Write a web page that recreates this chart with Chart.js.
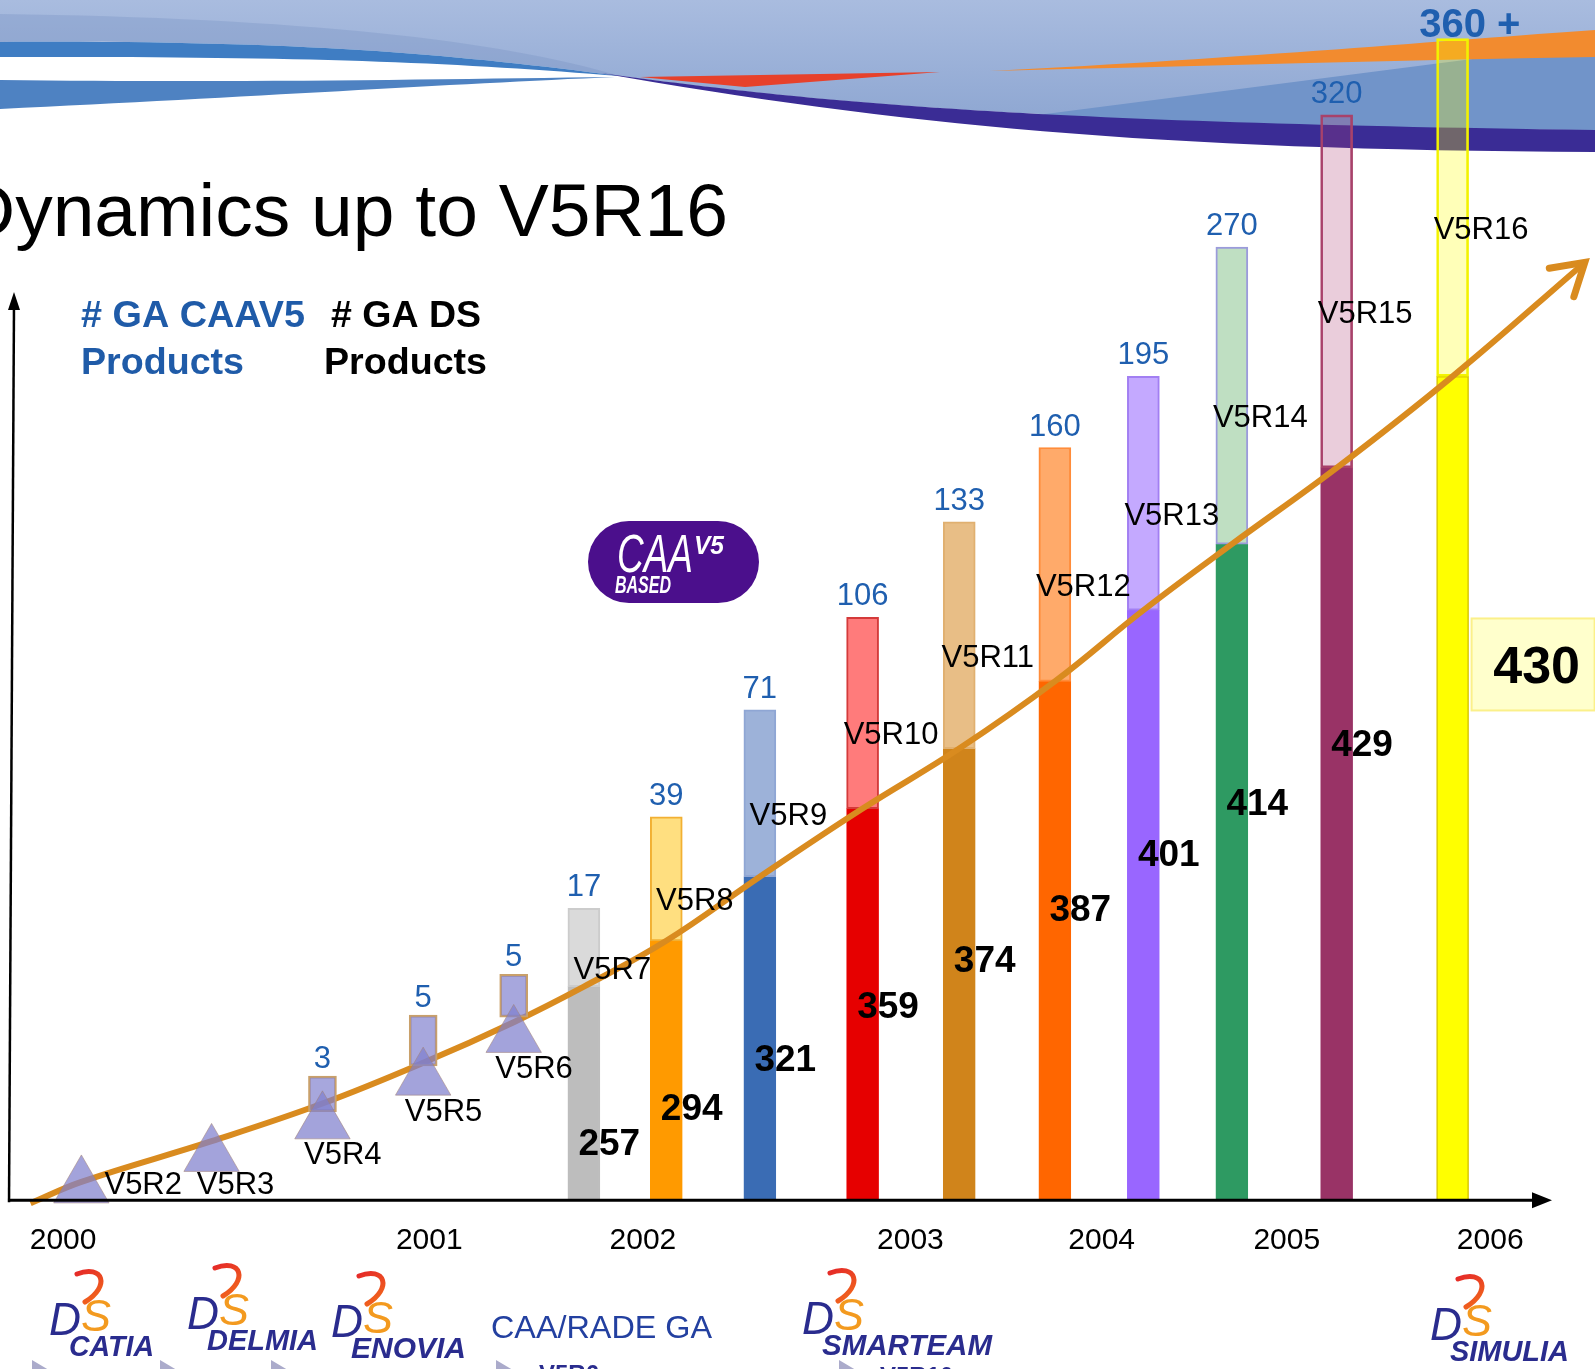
<!DOCTYPE html>
<html>
<head>
<meta charset="utf-8">
<script src="https://cdn.jsdelivr.net/npm/chart.js@4.4.1/dist/chart.umd.min.js"></script>
<style>
  html, body { margin: 0; padding: 0; background: #fff; overflow: hidden; }
  #wrap { width: 1595px; height: 1369px; position: relative; }
</style>
</head>
<body>
<div id="wrap"><canvas id="chart"></canvas></div>
<script>
const FONT = '"Liberation Sans", Arial, sans-serif';

// Releases on the (uneven, schematic) time line of the slide
const releases = ['V5R2', 'V5R3', 'V5R4', 'V5R5', 'V5R6', 'V5R7', 'V5R8', 'V5R9',
  'V5R10', 'V5R11', 'V5R12', 'V5R13', 'V5R14', 'V5R15', 'V5R16'];
const releaseAt = [80, 208, 317, 416, 505, 574, 655, 747, 848, 943, 1037, 1124, 1211, 1314, 1428];
// height of the orange trend curve (= top of the dark DS part) at each release
const dsLevel = [18, 58, 95, 135, 175, 210, 255, 318, 385, 444, 510, 580, 645, 720, 810];
const trendFrom = [30, -3];
const trendTo = [1558, 922];

// triangles V5R2..V5R6
const markerLevel = [13, 44, 76, 119, 161];
// small CAA boxes V5R4..V5R6
const boxLow = [87, 132, 180];
const boxHigh = [122, 182, 222];
// full bar height V5R7..V5R16
const barTop = [287, 377, 482, 573, 667, 740, 810, 937, 1067, 1142];

// label texts
const caaCounts = ['3', '5', '5', '17', '39', '71', '106', '133', '160', '195', '270', '320', '360 +']; // V5R4..V5R16
const dsCounts = ['257', '294', '321', '359', '374', '387', '401', '414', '429', '430'];             // V5R7..V5R16
const yearLabels = ['2000', '2001', '2002', '2003', '2004', '2005', '2006'];
const yearAt = [62, 422, 632, 895, 1083, 1265, 1465];

// bar palette V5R7..V5R16
const DARK = ['#BDBDBD', '#FF9A00', '#3A6CB4', '#E60000', '#D0841B', '#FF6600', '#9966FF', '#2E9A62', '#993366', '#FFFF00'];
const DARK_EDGE = ['#BDBDBD', '#FF9A00', '#3A6CB4', '#E60000', '#D0841B', '#FF6600', '#9966FF', '#2E9A62', '#993366', '#D6C400'];
const LIGHT = ['#DADADA', '#FFDF80', '#9DB2D9', '#FF7B7B', '#E8BE86', '#FFAA6A', '#C4A9FF', '#BFDFC2',
  'rgba(175, 60, 115, 0.26)', 'rgba(255, 255, 0, 0.28)'];
const LIGHT_EDGE = ['#CCCCCC', '#F2B033', '#8FA6D4', '#D43A3A', '#E0B070', '#FF8C3A', '#A27FF2', '#9B9BDB', '#A8426A', '#F2F200'];

const BLUE_TXT = '#1F5FAF';
const first = 5; // index of V5R7

const dsData = barTop.map((t, i) => ({ x: releaseAt[first + i], y: [0, dsLevel[first + i]] }));
const caaData = barTop.map((t, i) => ({ x: releaseAt[first + i], y: [dsLevel[first + i], t] }));
const boxData = boxLow.map((lo, i) => ({ x: releaseAt[2 + i], y: [lo, boxHigh[i]] }));
const markerData = markerLevel.map((v, i) => ({ x: releaseAt[i], y: v }));
const curveData = [{ x: trendFrom[0], y: trendFrom[1] }]
  .concat(releaseAt.map((x, i) => ({ x, y: dsLevel[i] })))
  .concat([{ x: trendTo[0], y: trendTo[1] }]);

function txt(ctx, s, x, y, font, color, align = 'left', width) {
  ctx.save();
  ctx.font = font;
  ctx.fillStyle = color;
  ctx.textBaseline = 'alphabetic';
  ctx.textAlign = align;
  if (width) {
    const k = width / ctx.measureText(s).width;
    ctx.translate(x, y);
    ctx.scale(k, 1);
    ctx.fillText(s, 0, 0);
  } else {
    ctx.fillText(s, x, y);
  }
  ctx.restore();
}

function drawBanner(ctx) {
  ctx.save();
  const g = ctx.createLinearGradient(0, 0, 0, 130);
  g.addColorStop(0, '#A9BCDF');
  g.addColorStop(1, '#8CA5D1');
  ctx.fillStyle = g;
  ctx.beginPath();
  ctx.moveTo(0, 0); ctx.lineTo(1595, 0); ctx.lineTo(1595, 130);
  ctx.bezierCurveTo(1000, 122, 800, 100, 620, 76);
  ctx.bezierCurveTo(450, 54, 300, 40, 0, 42);
  ctx.closePath(); ctx.fill();

  ctx.fillStyle = 'rgba(120, 145, 195, 0.35)';
  ctx.beginPath();
  ctx.moveTo(0, 14); ctx.bezierCurveTo(300, 18, 500, 40, 620, 76);
  ctx.bezierCurveTo(450, 54, 300, 40, 0, 42);
  ctx.closePath(); ctx.fill();

  ctx.fillStyle = '#3F7DC3';
  ctx.beginPath();
  ctx.moveTo(0, 42); ctx.bezierCurveTo(300, 40, 450, 54, 620, 76);
  ctx.bezierCurveTo(450, 62, 300, 56, 0, 57);
  ctx.closePath(); ctx.fill();

  ctx.fillStyle = '#4E82C2';
  ctx.beginPath();
  ctx.moveTo(0, 80); ctx.bezierCurveTo(250, 83, 450, 79, 615, 77);
  ctx.bezierCurveTo(450, 84, 250, 97, 0, 109);
  ctx.closePath(); ctx.fill();

  ctx.fillStyle = '#7194C9';
  ctx.beginPath();
  ctx.moveTo(1030, 116); ctx.lineTo(1480, 58); ctx.lineTo(1595, 56); ctx.lineTo(1595, 130);
  ctx.bezierCurveTo(1300, 128, 1150, 124, 1030, 116);
  ctx.closePath(); ctx.fill();

  ctx.fillStyle = '#F28B2F';
  ctx.beginPath();
  ctx.moveTo(990, 71); ctx.bezierCurveTo(1250, 58, 1450, 40, 1595, 30);
  ctx.lineTo(1595, 57); ctx.bezierCurveTo(1400, 60, 1200, 66, 990, 71);
  ctx.closePath(); ctx.fill();

  ctx.fillStyle = '#E7412B';
  ctx.beginPath();
  ctx.moveTo(640, 77); ctx.lineTo(940, 72); ctx.lineTo(745, 87);
  ctx.closePath(); ctx.fill();

  ctx.fillStyle = '#3A2C95';
  ctx.beginPath();
  ctx.moveTo(600, 73); ctx.bezierCurveTo(800, 100, 1000, 122, 1595, 130);
  ctx.lineTo(1595, 152); ctx.bezierCurveTo(1150, 150, 900, 125, 600, 73);
  ctx.closePath(); ctx.fill();
  ctx.restore();
}

function drawBadge(ctx) {
  ctx.save();
  const x = 588, y = 521, w = 171, h = 82, r = 41;
  ctx.fillStyle = '#4B0F8C';
  ctx.beginPath();
  ctx.moveTo(x + r, y); ctx.lineTo(x + w - r, y);
  ctx.arc(x + w - r, y + r, r, -Math.PI / 2, Math.PI / 2);
  ctx.lineTo(x + r, y + h);
  ctx.arc(x + r, y + r, r, Math.PI / 2, Math.PI * 1.5);
  ctx.closePath(); ctx.fill();
  ctx.restore();
  txt(ctx, 'CAA', 617, 572, `italic 54px ${FONT}`, '#FFFFFF', 'left', 76);
  txt(ctx, 'V5', 694, 554, `italic bold 26px ${FONT}`, '#FFFFFF', 'left', 30);
  txt(ctx, 'BASED', 615, 593, `italic bold 24px ${FONT}`, '#FFFFFF', 'left', 56);
}

function dsLogo(ctx, nx, ny, name, nameWidth) {
  ctx.save();
  ctx.lineCap = 'round';
  const g = ctx.createLinearGradient(nx, ny - 86, nx + 24, ny - 50);
  g.addColorStop(0, '#E3202A');
  g.addColorStop(1, '#F26A1B');
  ctx.strokeStyle = g;
  ctx.lineWidth = 5;
  ctx.beginPath();
  ctx.moveTo(nx + 8, ny - 82);
  ctx.bezierCurveTo(nx + 34, ny - 92, nx + 42, ny - 70, nx + 16, ny - 54);
  ctx.stroke();
  ctx.restore();
  txt(ctx, 'D', nx - 20, ny - 21, `italic 46px ${FONT}`, '#2A2C8E', 'left', 32);
  txt(ctx, 'S', nx + 12, ny - 25, `italic 44px ${FONT}`, '#F39A1F', 'left', 30);
  txt(ctx, name, nx, ny, `italic bold 29px ${FONT}`, '#2A2C8E', 'left', nameWidth);
}

const slidePlugin = {
  id: 'slide',
  beforeDatasetsDraw(chart) {
    const ctx = chart.ctx;
    drawBanner(ctx);
    txt(ctx, 'Dynamics up to V5R16', 728, 236, `75px ${FONT}`, '#000000', 'right');
    txt(ctx, '# GA CAAV5', 81, 327, `bold 37px ${FONT}`, '#1F5BA8', 'left', 224);
    txt(ctx, 'Products', 81, 374, `bold 37px ${FONT}`, '#1F5BA8', 'left', 163);
    txt(ctx, '# GA DS', 331, 327, `bold 37px ${FONT}`, '#000000', 'left', 150);
    txt(ctx, 'Products', 324, 374, `bold 37px ${FONT}`, '#000000', 'left', 163);
    drawBadge(ctx);
  },
  afterDatasetsDraw(chart) {
    const ctx = chart.ctx;
    const X = v => chart.scales.x.getPixelForValue(v);
    const Y = v => chart.scales.y.getPixelForValue(v);
    const y0 = Y(0);

    // axes
    ctx.save();
    ctx.strokeStyle = '#000'; ctx.fillStyle = '#000';
    ctx.lineWidth = 3;
    ctx.beginPath(); ctx.moveTo(8, y0); ctx.lineTo(1538, y0); ctx.stroke();
    ctx.beginPath(); ctx.moveTo(1552, y0); ctx.lineTo(1532, y0 - 8); ctx.lineTo(1532, y0 + 8); ctx.closePath(); ctx.fill();
    ctx.lineWidth = 2.5;
    ctx.beginPath(); ctx.moveTo(9, y0 + 2); ctx.lineTo(14, 304); ctx.stroke();
    ctx.beginPath(); ctx.moveTo(14, 292); ctx.lineTo(8, 310); ctx.lineTo(20, 310); ctx.closePath(); ctx.fill();

    // arrow head of the trend curve
    const n = curveData.length;
    const ax = X(curveData[n - 1].x), ay = Y(curveData[n - 1].y);
    const bx = X(curveData[n - 2].x), by = Y(curveData[n - 2].y);
    const ang = Math.atan2(ay - by, ax - bx);
    ctx.strokeStyle = '#D98B1F'; ctx.lineWidth = 7; ctx.lineCap = 'round';
    ctx.beginPath();
    ctx.moveTo(ax - 36 * Math.cos(ang - 0.55), ay - 36 * Math.sin(ang - 0.55));
    ctx.lineTo(ax, ay);
    ctx.lineTo(ax - 36 * Math.cos(ang + 0.55), ay - 36 * Math.sin(ang + 0.55));
    ctx.stroke();
    ctx.restore();

    // year labels
    yearLabels.forEach((s, i) => txt(ctx, s, X(yearAt[i]), Y(-48), `30px ${FONT}`, '#000', 'center'));

    // early release labels under the triangles
    for (let i = 0; i < 5; i++) {
      let h = markerLevel[i] - 30, dx = 20;
      if (h < 17) { dx += (17 - h) * 1.2; h = 17; }
      txt(ctx, releases[i], X(releaseAt[i] + dx), Y(h) + 11, `31px ${FONT}`, '#000', 'center');
    }
    // CAA counts above the small boxes
    for (let i = 0; i < 3; i++) {
      txt(ctx, caaCounts[i], X(releaseAt[2 + i]), Y(boxHigh[i]) - 8, `31px ${FONT}`, BLUE_TXT, 'center');
    }

    // big bars: release names, CAA counts, DS counts
    barTop.forEach((top, i) => {
      const k = first + i;
      const at = releaseAt[k];
      const dark = dsLevel[k];
      const mid = (top + dark) / 2 - 20;
      txt(ctx, releases[k], X(at + 28), Y(mid) + 11, `31px ${FONT}`, '#000', 'center');

      const caa = caaCounts[3 + i];
      if (i === barTop.length - 1) {
        ctx.save(); ctx.font = `bold 40px ${FONT}`;
        const w = ctx.measureText('360').width; ctx.restore();
        txt(ctx, caa, X(at) - w / 2, Y(top) - 2, `bold 40px ${FONT}`, BLUE_TXT, 'left');
      } else {
        txt(ctx, caa, X(at), Y(top) - 12, `31px ${FONT}`, BLUE_TXT, 'center');
      }

      const h = 0.77 * dark - 105;
      if (i === barTop.length - 1) {
        const left = X(at) + 19, cy = Y(h + 8);
        ctx.save();
        ctx.fillStyle = '#FFFFCC'; ctx.strokeStyle = '#FBF08A'; ctx.lineWidth = 2;
        ctx.fillRect(left, cy - 46, 123, 92);
        ctx.strokeRect(left, cy - 46, 123, 92);
        ctx.restore();
        txt(ctx, dsCounts[i], left + 65, cy + 19, `bold 52px ${FONT}`, '#000', 'center');
      } else {
        txt(ctx, dsCounts[i], X(at + 25), Y(h) + 13, `bold 37px ${FONT}`, '#000', 'center');
      }
    });
  },
  afterDraw(chart) {
    const ctx = chart.ctx;
    dsLogo(ctx, 69, 1356, 'CATIA', 85);
    dsLogo(ctx, 207, 1350, 'DELMIA', 111);
    dsLogo(ctx, 351, 1358, 'ENOVIA', 115);
    dsLogo(ctx, 822, 1355, 'SMARTEAM', 170);
    dsLogo(ctx, 1450, 1361, 'SIMULIA', 119);
    txt(ctx, 'CAA/RADE GA', 491, 1338, `32px ${FONT}`, '#2340A0', 'left', 221);

    ctx.save();
    ctx.fillStyle = '#ABABCB';
    [32, 160, 271, 496, 839].forEach(x => {
      ctx.beginPath(); ctx.moveTo(x, 1360); ctx.lineTo(x + 32, 1379); ctx.lineTo(x, 1398); ctx.closePath(); ctx.fill();
    });
    ctx.restore();
    txt(ctx, 'V5R6', 539, 1382, `bold 24px ${FONT}`, '#2A2C8E');
    txt(ctx, 'V5R10', 880, 1384, `bold 24px ${FONT}`, '#2A2C8E');
  }
};

new Chart(document.getElementById('chart'), {
  type: 'bar',
  data: {
    datasets: [
      {
        type: 'line',
        data: markerData,
        showLine: false,
        pointStyle: 'triangle',
        pointRadius: 32,
        pointBackgroundColor: 'rgba(128, 128, 205, 0.72)',
        pointBorderColor: 'rgba(160, 130, 120, 0.55)',
        pointBorderWidth: 1,
        order: 1,
      },
      {
        data: boxData,
        backgroundColor: 'rgba(125, 125, 205, 0.68)',
        borderColor: '#C9A06A',
        borderWidth: 2,
        borderSkipped: false,
        barThickness: 28,
        grouped: false,
        order: 2,
      },
      {
        type: 'line',
        data: curveData,
        borderColor: '#D98B1F',
        borderWidth: 6,
        pointRadius: 0,
        tension: 0.4,
        order: 3,
      },
      {
        data: caaData,
        backgroundColor: LIGHT,
        borderColor: LIGHT_EDGE,
        borderWidth: 2,
        borderSkipped: false,
        barThickness: 32,
        grouped: false,
        order: 4,
      },
      {
        data: dsData,
        backgroundColor: DARK,
        borderColor: DARK_EDGE,
        borderWidth: 1.5,
        borderSkipped: false,
        barThickness: 32,
        grouped: false,
        order: 5,
      },
    ],
  },
  options: {
    responsive: true,
    maintainAspectRatio: false,
    devicePixelRatio: 1,
    animation: false,
    events: [],
    layout: { padding: 0, autoPadding: false },
    plugins: { legend: { display: false }, tooltip: { enabled: false }, title: { display: false } },
    scales: {
      x: { type: 'linear', min: 0, max: 1568, display: false, offset: false },
      y: { type: 'linear', min: -166, max: 1180, display: false },
    },
  },
  plugins: [slidePlugin],
});
</script>
</body>
</html>
